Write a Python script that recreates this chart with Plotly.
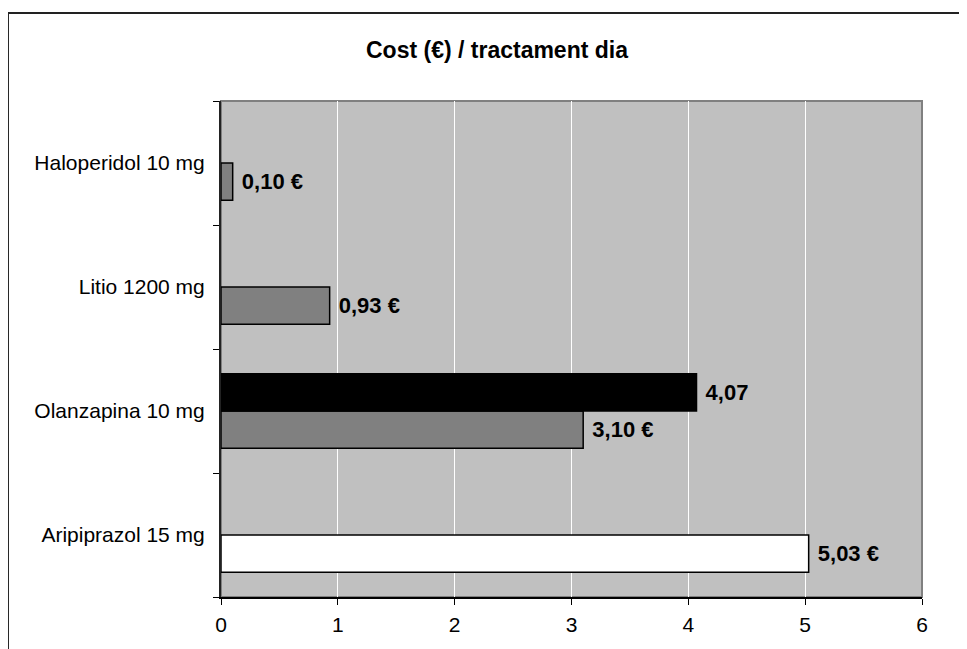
import plotly.graph_objects as go

categories = ["Haloperidol 10 mg", "Litio 1200 mg", "Olanzapina 10 mg", "Aripiprazol 15 mg"]
cost_day = [0.10, 0.93, 3.10, 5.03]
cost_day_labels = ["0,10 €", "0,93 €", "3,10 €", "5,03 €"]
cost_alt = [None, None, 4.07, None]
cost_alt_labels = ["", "", "4,07", ""]
bar_colors = ["#808080", "#808080", "#808080", "#FFFFFF"]
x_ticks = [0, 1, 2, 3, 4, 5, 6]

FONT = "Liberation Sans, Arial, sans-serif"
NB = "\u00a0"

fig = go.Figure()
fig.add_trace(go.Bar(
    y=categories, x=cost_day, orientation="h",
    marker=dict(color=bar_colors, line=dict(color="#000000", width=1.5)),
    text=[NB + t for t in cost_day_labels], textposition="outside", cliponaxis=False,
    textfont=dict(family=FONT, size=22, color="#000000", weight="bold"),
    showlegend=False, hoverinfo="skip",
))
fig.add_trace(go.Bar(
    y=categories, x=cost_alt, orientation="h",
    marker=dict(color="#000000", line=dict(color="#000000", width=1.5)),
    text=[(NB + t) if t else "" for t in cost_alt_labels], textposition="outside", cliponaxis=False,
    textfont=dict(family=FONT, size=22, color="#000000", weight="bold"),
    showlegend=False, hoverinfo="skip",
))

fig.update_layout(
    width=959, height=641,
    margin=dict(l=213, r=45, t=93, b=52),
    paper_bgcolor="#FFFFFF", plot_bgcolor="#C0C0C0",
    barmode="group", bargap=0.4, bargroupgap=0,
    uniformtext=dict(mode=False),
    font=dict(family=FONT, size=21, color="#000000"),
    showlegend=False,
    xaxis=dict(
        range=[0, 6], tickvals=x_ticks, ticktext=[str(v) for v in x_ticks],
        showgrid=True, gridcolor="#FFFFFF", gridwidth=1, zeroline=False,
        showline=True, linecolor="#000000", linewidth=1.5,
        ticks="outside", ticklen=6, tickcolor="#000000", tickwidth=1,
        tickfont=dict(family=FONT, size=21), ticklabelstandoff=2,
    ),
    yaxis=dict(
        type="category", categoryorder="array", categoryarray=categories[::-1],
        showgrid=False, zeroline=False,
        showline=True, linecolor="#222222", linewidth=2,
        ticks="outside", ticklen=6, tickcolor="#000000", tickwidth=1,
        tickson="boundaries",
        tickfont=dict(family=FONT, size=21), ticklabelstandoff=10,
    ),
    shapes=[
        dict(type="rect", xref="paper", yref="paper", x0=0, x1=1, y0=0, y1=1,
             line=dict(color="#808080", width=2), fillcolor="rgba(0,0,0,0)", layer="below"),
        dict(type="rect", xref="paper", yref="paper", x0=-0.3039, x1=1.2, y0=-0.3, y1=1.1774,
             line=dict(color="#222222", width=2), fillcolor="rgba(0,0,0,0)", layer="above"),
    ],
    annotations=[
        dict(text="<b>Cost (€) / tractament dia</b>", xref="paper", yref="paper",
             x=0.394, y=1.103, xanchor="center", yanchor="middle", showarrow=False,
             font=dict(family=FONT, size=23, color="#000000")),
    ],
)

fig.write_html("out.html")
